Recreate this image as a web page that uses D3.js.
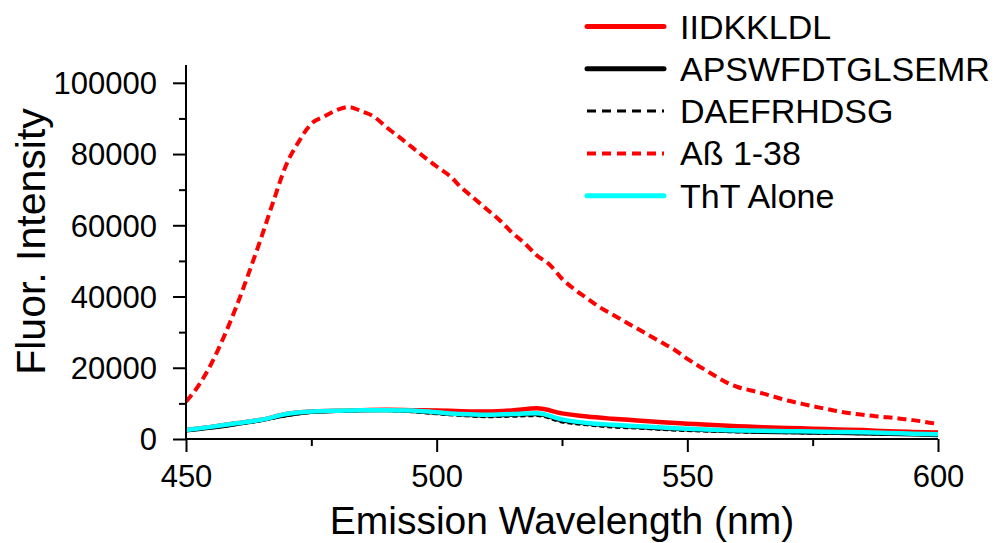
<!DOCTYPE html>
<html>
<head>
<meta charset="utf-8">
<script src="https://cdn.jsdelivr.net/npm/d3@7"></script>
<style>
  html, body { margin: 0; padding: 0; background: #fff; }
  svg { display: block; font-family: "Liberation Sans", Arial, sans-serif; }
</style>
</head>
<body>
<svg id="chart" width="999" height="543"></svg>
<script>
// ---------- DATA ----------
const seriesNames = ["IIDKKLDL", "APSWFDTGLSEMR", "DAEFRHDSG", "A\u00DF 1-38", "ThT Alone"];

// common wavelength grid for the low-intensity series (nm)
const wavelengths = [450,455,460,465,470,475,480,485,490,495,500,505,510,515,520,525,530,535,540,545,550,555,560,565,570,575,580,585,590,595,600];

const iidkkldl = [2500,3400,4400,5400,7000,7700,7900,8100,8200,8100,8000,7800,7700,8000,8600,7200,6300,5700,5200,4700,4300,3900,3600,3300,3100,2900,2700,2500,2200,2000,1800];
const apswfdtglsemr = [2300,3100,4100,5200,6600,7500,7800,8000,8000,7800,7200,6800,6500,6700,6900,5100,4200,3700,3300,2900,2600,2300,2100,1900,1800,1700,1600,1500,1300,1200,1000];
const daefrhdsg = [2300,3100,4000,5100,6500,7400,7700,7900,7900,7600,7000,6500,6200,6300,6500,4700,3900,3300,3000,2600,2300,2100,1900,1800,1700,1600,1500,1400,1300,1200,1000];
const thtAlone = [2500,3400,4400,5400,7000,7700,7900,8100,8100,8000,7500,7000,6800,7000,7200,5500,4500,4000,3600,3200,2900,2600,2400,2300,2200,2100,2000,1900,1700,1500,1300];

// finer wavelength grid for the A-beta 1-38 series (nm)
const abWavelengths = [450,452.5,455,457.5,460,462.5,465,467.5,470,472.5,475,477.5,480,482.5,485,487.5,490,492.5,495,497.5,500,502.5,505,507.5,510,512.5,515,517.5,520,522.5,525,527.5,530,532.5,535,537.5,540,542.5,545,547.5,550,552.5,555,557.5,560,562.5,565,567.5,570,572.5,575,577.5,580,582.5,585,587.5,590,592.5,595,597.5,600];
const abeta138 = [10500,15000,21000,28500,37000,46500,56500,67000,77000,83500,88500,90500,92300,93200,92000,90500,87500,84800,82000,79200,76500,74000,70500,67500,64500,61500,58000,55000,51500,49000,45000,42000,39500,37000,35000,33000,31000,29000,27000,25000,22500,20300,18200,16100,14600,13700,12800,11800,10800,10000,9200,8500,7800,7200,6800,6400,6100,5700,5300,4800,4200];

const xTicks = [450, 500, 550, 600];
const xMinorTicks = [475, 525, 575];
const yTicks = [0, 20000, 40000, 60000, 80000, 100000];
const yMinorTicks = [10000, 30000, 50000, 70000, 90000];

const xTitle = "Emission Wavelength (nm)";
const yTitle = "Fluor. Intensity";

// ---------- LAYOUT ----------
const svg = d3.select("#chart");
const plotL = 186, plotR = 938, plotT = 65, plotB = 439;

const x = d3.scaleLinear().domain([450, 600]).range([plotL, plotR]);
const y = d3.scaleLinear().domain([0, 105000]).range([plotB, plotT]);

// ---------- SERIES ----------
const series = [
  { name: seriesNames[3], xs: abWavelengths, ys: abeta138, color: "#ff0000", width: 4, dash: "9,5" },
  { name: seriesNames[0], xs: wavelengths, ys: iidkkldl, color: "#ff0000", width: 4.5, dash: null },
  { name: seriesNames[1], xs: wavelengths, ys: apswfdtglsemr, color: "#000000", width: 3.5, dash: null },
  { name: seriesNames[2], xs: wavelengths, ys: daefrhdsg, color: "#000000", width: 2.5, dash: "5,3" },
  { name: seriesNames[4], xs: wavelengths, ys: thtAlone, color: "#00ffff", width: 4.5, dash: null }
];

const line = d3.line()
  .x(d => x(d[0]))
  .y(d => y(d[1]))
  .curve(d3.curveMonotoneX);

const plot = svg.append("g");
series.forEach(s => {
  const pts = s.xs.map((w, i) => [w, s.ys[i]]);
  plot.append("path")
    .datum(pts)
    .attr("d", line)
    .attr("fill", "none")
    .attr("stroke", s.color)
    .attr("stroke-width", s.width)
    .attr("stroke-linejoin", "round")
    .attr("stroke-dasharray", s.dash);
});

// ---------- AXES ----------
const xAxis = d3.axisBottom(x).tickValues(xTicks).tickSize(13).tickPadding(10).tickFormat(d3.format("d"));
const yAxis = d3.axisLeft(y).tickValues(yTicks).tickSize(13).tickPadding(16).tickFormat(d3.format("d"));

const gx = svg.append("g").attr("transform", `translate(0,${plotB})`).call(xAxis);
const gy = svg.append("g").attr("transform", `translate(${plotL},0)`).call(yAxis);

svg.append("g").attr("transform", `translate(0,${plotB})`)
  .call(d3.axisBottom(x).tickValues(xMinorTicks).tickSize(7).tickFormat(""))
  .call(g => g.select(".domain").remove());
svg.append("g").attr("transform", `translate(${plotL},0)`)
  .call(d3.axisLeft(y).tickValues(yMinorTicks).tickSize(7).tickFormat(""))
  .call(g => g.select(".domain").remove());

svg.selectAll(".domain").attr("stroke", "#000").attr("stroke-width", 2);
svg.selectAll(".tick line").attr("stroke", "#000").attr("stroke-width", 2);
gx.selectAll(".domain").attr("d", `M${plotL},0H${plotR}`);
gy.selectAll(".domain").attr("d", `M0,${plotB}V${plotT}`);

gx.selectAll(".tick text")
  .attr("font-size", 31).attr("fill", "#000")
  .attr("font-family", "Liberation Sans, Arial, sans-serif")
  .attr("dy", null).attr("y", 48);
gy.selectAll(".tick text")
  .attr("font-size", 31).attr("fill", "#000")
  .attr("font-family", "Liberation Sans, Arial, sans-serif")
  .attr("dy", "0.35em");

// ---------- TITLES ----------
svg.append("text")
  .attr("x", (plotL + plotR) / 2).attr("y", 534)
  .attr("text-anchor", "middle")
  .attr("font-size", 39).attr("fill", "#000")
  .text(xTitle);

svg.append("text")
  .attr("transform", "translate(45,241.5) rotate(-90)")
  .attr("text-anchor", "middle")
  .attr("font-size", 41).attr("fill", "#000")
  .text(yTitle);

// ---------- LEGEND ----------
const legendOrder = [
  { name: seriesNames[0], color: "#ff0000", width: 5, dash: null },
  { name: seriesNames[1], color: "#000000", width: 5, dash: null },
  { name: seriesNames[2], color: "#000000", width: 3, dash: "9,6" },
  { name: seriesNames[3], color: "#ff0000", width: 4, dash: "9,6" },
  { name: seriesNames[4], color: "#00ffff", width: 5, dash: null }
];
const legend = svg.append("g");
legendOrder.forEach((d, i) => {
  const by = 38.5 + i * 42.3;
  legend.append("line")
    .attr("x1", 587).attr("x2", 664)
    .attr("y1", by - 12).attr("y2", by - 12)
    .attr("stroke", d.color).attr("stroke-width", d.width)
    .attr("stroke-linecap", d.dash ? "butt" : "round")
    .attr("stroke-dasharray", d.dash);
  legend.append("text")
    .attr("x", 680).attr("y", by)
    .attr("font-size", 34).attr("fill", "#000")
    .text(d.name);
});
</script>
</body>
</html>
